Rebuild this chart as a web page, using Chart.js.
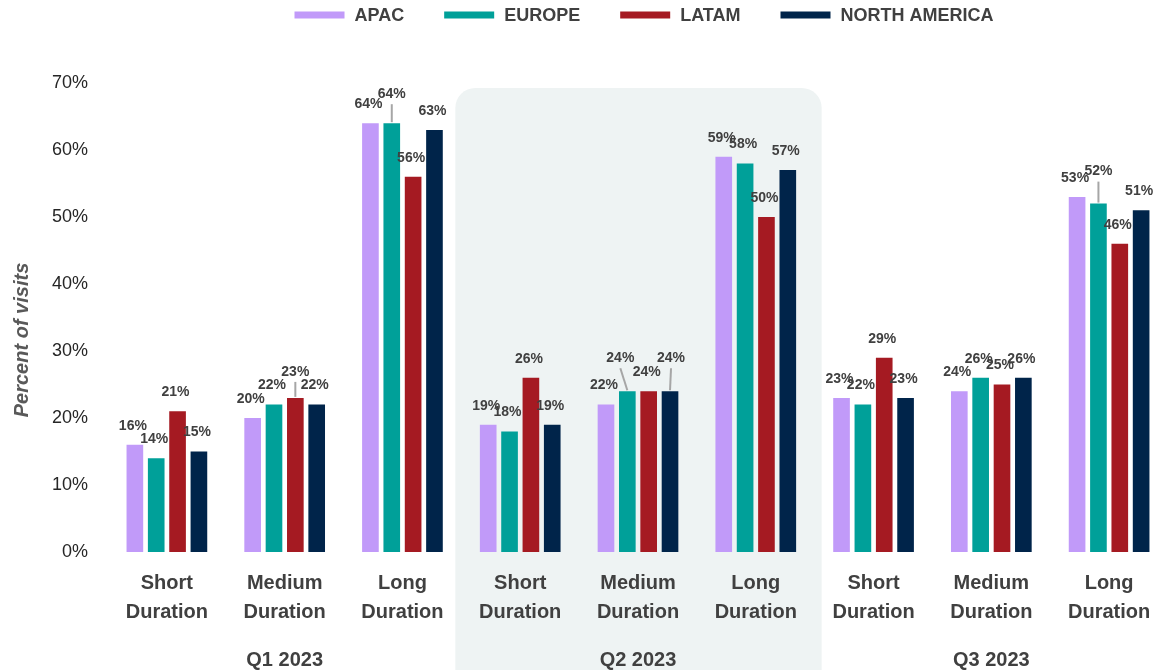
<!DOCTYPE html>
<html>
<head>
<meta charset="utf-8">
<script src="https://cdn.jsdelivr.net/npm/chart.js@4.4.0/dist/chart.umd.min.js"></script>
<style>
html,body{margin:0;padding:0;background:#ffffff;overflow:hidden;}
#wrap{width:1161px;height:670px;position:relative;overflow:hidden;}
#c{position:absolute;left:0;top:0;}
</style>
</head>
<body>
<div id="wrap"><canvas id="c" width="1168" height="670"></canvas></div>
<script>
// ---- data ----
const categories = [
  ["Short","Duration"],["Medium","Duration"],["Long","Duration"],
  ["Short","Duration"],["Medium","Duration"],["Long","Duration"],
  ["Short","Duration"],["Medium","Duration"],["Long","Duration"]
];
const quarters = ["Q1 2023","Q2 2023","Q3 2023"];
const seriesNames = ["APAC","EUROPE","LATAM","NORTH AMERICA"];
const apac         = [16,20,64,19,22,59,23,24,53];
const europe       = [14,22,64,18,24,58,22,26,52];
const latam        = [21,23,56,26,24,50,29,25,46];
const northAmerica = [15,22,63,19,24,57,23,26,51];
const yTickValues  = [0,10,20,30,40,50,60,70];
const yAxisTitle   = "Percent of visits";
const highlightedQuarter = 1;

// ---- styles ----
const FONT = "'Liberation Sans', Arial, sans-serif";
const seriesColors = ["#C19AF9","#00A099","#A51A22","#00244A"];
const TEXT = "#404040";
// label placement tweaks (dataset-index : offsets in px, leader line)
const labelNudges = {
  "2-1": {dx:2,  dy:-7,  leader:true},
  "1-2": {dx:2,  dy:-10, leader:true},
  "1-4": {dx:-5, dy:-14, leader:true},
  "3-4": {dx:3,  dy:-14, leader:true},
  "1-8": {dx:2,  dy:-13, leader:true}
};

const seriesValues = [apac, europe, latam, northAmerica];

const bgPlugin = {
  id: 'quarterBg',
  beforeDraw(chart) {
    const ctx = chart.ctx, xs = chart.scales.x, ys = chart.scales.y;
    const step = xs.getPixelForValue(1) - xs.getPixelForValue(0);
    const first = highlightedQuarter * 3, last = first + 2;
    const left = xs.getPixelForValue(first) - step / 2 - 6;
    const right = xs.getPixelForValue(last) + step / 2 + 7;
    const top = ys.getPixelForValue(70) + 5;
    const bottom = chart.height + 30;
    ctx.save();
    ctx.fillStyle = "#EEF3F3";
    ctx.beginPath();
    ctx.roundRect(left, top, right - left, bottom - top, 20);
    ctx.fill();
    ctx.restore();
  }
};

const labelPlugin = {
  id: 'valueLabels',
  afterDatasetsDraw(chart) {
    const ctx = chart.ctx;
    ctx.save();
    ctx.font = "bold 14px " + FONT;
    ctx.textAlign = "center";
    ctx.textBaseline = "middle";
    chart.data.datasets.forEach((ds, i) => {
      const meta = chart.getDatasetMeta(i);
      meta.data.forEach((el, j) => {
        const n = labelNudges[i + "-" + j] || {dx:0, dy:0};
        const lx = el.x - 2 + n.dx;
        const ly = el.y - 19 + n.dy;
        if (n.leader) {
          ctx.strokeStyle = "#A6A6A6";
          ctx.lineWidth = 2;
          ctx.beginPath();
          ctx.moveTo(lx, ly + 10);
          ctx.lineTo(el.x, el.y - 1);
          ctx.stroke();
        }
        ctx.fillStyle = TEXT;
        ctx.fillText(ds.data[j] + "%", lx, ly);
      });
    });
    ctx.restore();
  }
};

const decoPlugin = {
  id: 'deco',
  afterDraw(chart) {
    const ctx = chart.ctx, ca = chart.chartArea;
    ctx.save();
    // y axis title
    ctx.translate(22, 340);
    ctx.rotate(-Math.PI / 2);
    ctx.font = "italic bold 20px " + FONT;
    ctx.fillStyle = "#595959";
    ctx.textAlign = "center";
    ctx.textBaseline = "middle";
    ctx.fillText(yAxisTitle, 0, 0);
    ctx.restore();

    // legend
    ctx.save();
    ctx.font = "bold 18px " + FONT;
    const boxW = 50, boxH = 7, gapText = 10, gapItem = 40;
    const widths = seriesNames.map(s => boxW + gapText + ctx.measureText(s).width);
    const total = widths.reduce((a, b) => a + b, 0) + gapItem * (seriesNames.length - 1);
    let x = (ca.left + ca.right) / 2 + 6 - total / 2;
    const cy = 15;
    seriesNames.forEach((s, i) => {
      ctx.fillStyle = seriesColors[i];
      ctx.fillRect(x, cy - boxH / 2, boxW, boxH);
      ctx.fillStyle = TEXT;
      ctx.textAlign = "left";
      ctx.textBaseline = "middle";
      ctx.fillText(s, x + boxW + gapText, cy + 1);
      x += widths[i] + gapItem;
    });
    ctx.restore();
  }
};

new Chart(document.getElementById('c'), {
  type: 'bar',
  data: {
    labels: categories,
    datasets: seriesNames.map((name, i) => ({
      label: name,
      data: seriesValues[i],
      backgroundColor: seriesColors[i],
      xAxisID: 'x',
      yAxisID: 'y',
      categoryPercentage: 0.725,
      barPercentage: 0.78
    }))
  },
  options: {
    responsive: false,
    devicePixelRatio: 1,
    animation: false,
    layout: { padding: { top: 83, left: 0, right: 0, bottom: 0 } },
    plugins: { legend: { display: false }, tooltip: { enabled: false }, title: { display: false } },
    scales: {
      x: {
        type: 'category',
        offset: true,
        grid: { display: false, drawTicks: false },
        border: { display: false },
        ticks: {
          autoSkip: false, maxRotation: 0, padding: 17, color: TEXT,
          font: { family: FONT, size: 20, weight: 'bold', lineHeight: 1.45 }
        },
        afterFit(s) { s.height = 80; }
      },
      x2: {
        type: 'category',
        position: 'bottom',
        labels: quarters,
        weight: 1,
        offset: true,
        grid: { display: false, drawTicks: false },
        border: { display: false },
        ticks: {
          autoSkip: false, maxRotation: 0, padding: 16, color: TEXT,
          font: { family: FONT, size: 20, weight: 'bold', lineHeight: 1.2 }
        },
        afterFit(s) { s.height = 38; }
      },
      y: {
        min: 0, max: 70,
        afterBuildTicks(s) { s.ticks = yTickValues.map(v => ({ value: v })); },
        grid: { display: false, drawTicks: false },
        border: { display: false },
        ticks: {
          padding: 20, color: "#262626",
          font: { family: FONT, size: 18 },
          callback: v => v + "%"
        },
        afterFit(s) { s.width = 108; }
      }
    }
  },
  plugins: [bgPlugin, labelPlugin, decoPlugin]
});
</script>
</body>
</html>
